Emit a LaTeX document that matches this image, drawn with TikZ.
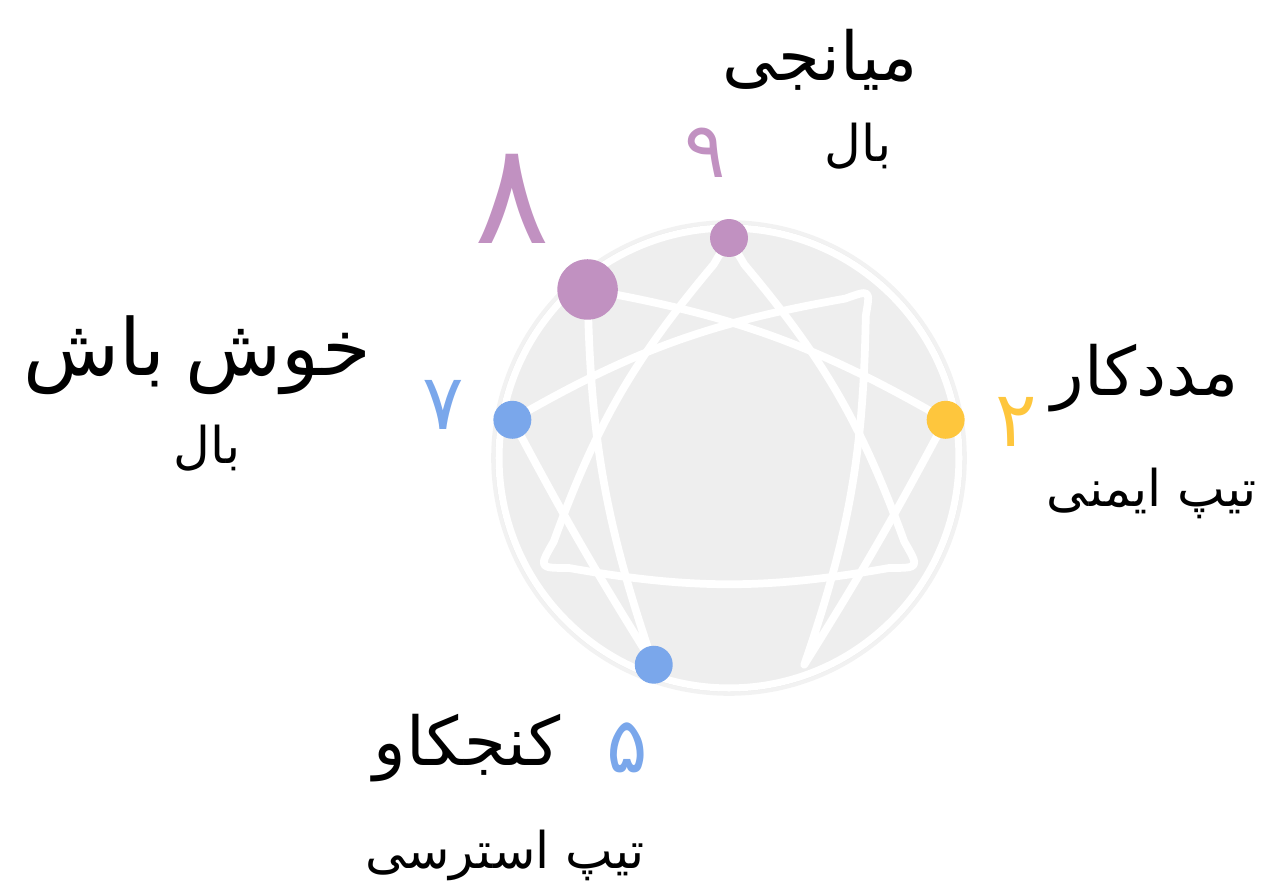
\documentclass[tikz,border=0pt]{standalone}
\usepackage{fontspec}
\usetikzlibrary{positioning,calc}
\TeXXeTstate=1
\newfontfamily\fa[Script=Arabic]{DejaVu Sans}
\definecolor{headpurple}{HTML}{C191C1}
\definecolor{headblue}{HTML}{7AA7EB}
\definecolor{heartyellow}{HTML}{FEC63D}
\definecolor{disc}{HTML}{EEEEEE}
\newcommand{\fasize}[1]{\fontsize{#1}{#1}\selectfont\fa}

\begin{document}
\begin{tikzpicture}[x=0.025cm,y=0.025cm,
  typename/.style={font=\fasize{48pt},text=black},
  wingname/.style={font=\fasize{36pt},text=black},
  num/.style={font=\fasize{55pt}},
  dot/.style={circle,inner sep=0pt,minimum size=27pt},
  line/.style={draw=white,line width=5.5pt,line cap=round,line join=round}]
  \useasboundingbox (0,0) rectangle (1267,888);
  \coordinate (C) at (729,430);
  % disc
  \draw[black!5,line width=4pt] (C) circle (235);
  \draw[black!9,line width=1pt] (C) circle (233);
  \draw[fill=disc,draw=white,line width=5pt] (C) circle (230);
  % points of the figure
  \foreach \i/\a in {1/50,2/10,3/330,4/290,5/250,6/210,7/170,8/130,9/90}
    \coordinate (p\i) at ($(C)+(\a:220)$);
  % triangle 9-3-6
  \draw[line] ($(p9)!.08!(p3)$) to[bend left=10] ($(p3)!.08!(p9)$)
    .. controls (p3) .. ($(p3)!.08!(p6)$) to[bend left=10] ($(p6)!.08!(p3)$)
    .. controls (p6) .. ($(p6)!.08!(p9)$) to[bend left=10] ($(p9)!.08!(p6)$)
    .. controls (p9) .. ($(p9)!.08!(p3)$);
  % hexad 1-4-2-8-5-7
  \draw[line] ($(p1)!.07!(p4)$) to[bend left=9] (p4) to[bend right=2] (p2)
    to[bend right=10] (p8) to[bend right=9] (p5) to[bend left=2] (p7)
    to[bend left=10] ($(p1)!.07!(p7)$) .. controls (p1) .. ($(p1)!.07!(p4)$);
  % dots
  \node[dot,fill=headpurple] (d9) at (p9) {};
  \node[dot,fill=headpurple,minimum size=43pt] (d8) at (p8) {};
  \node[dot,fill=headblue] (d7) at (p7) {};
  \node[dot,fill=heartyellow] (d2) at (p2) {};
  \node[dot,fill=headblue] (d5) at (p5) {};
  % numbers
  \node[num,text=headpurple] (n9) at (705,735) {\beginR ۹\endR};
  \node[num,text=headpurple,font=\fasize{100pt}] (n8) at (512,689) {\beginR ۸\endR};
  \node[num,text=headblue] (n7) at (443,483) {\beginR ۷\endR};
  \node[num,text=heartyellow] (n2) at (1016,466) {\beginR ۲\endR};
  \node[num,text=headblue] (n5) at (627,140) {\beginR ۵\endR};
  % names
  \node[typename] (t9) at (820,828) {\beginR میانجی\endR};
  \node[wingname] (w9) at (858,742) {\beginR بال\endR};
  \node[typename,font=\fasize{56pt}] (t7) at (197,533) {\beginR خوش\hskip 14pt باش\endR};
  \node[wingname] (w7) at (207,440) {\beginR بال\endR};
  \node[typename] (t2) at (1145,510) {\beginR مددکار\endR};
  \node[wingname] (w2) at (1152,395) {\beginR تیپ ایمنی\endR};
  \node[typename] (t5) at (467,140) {\beginR کنجکاو\endR};
  \node[wingname] (w5) at (505,33) {\beginR تیپ استرسی\endR};
\end{tikzpicture}
\end{document}
